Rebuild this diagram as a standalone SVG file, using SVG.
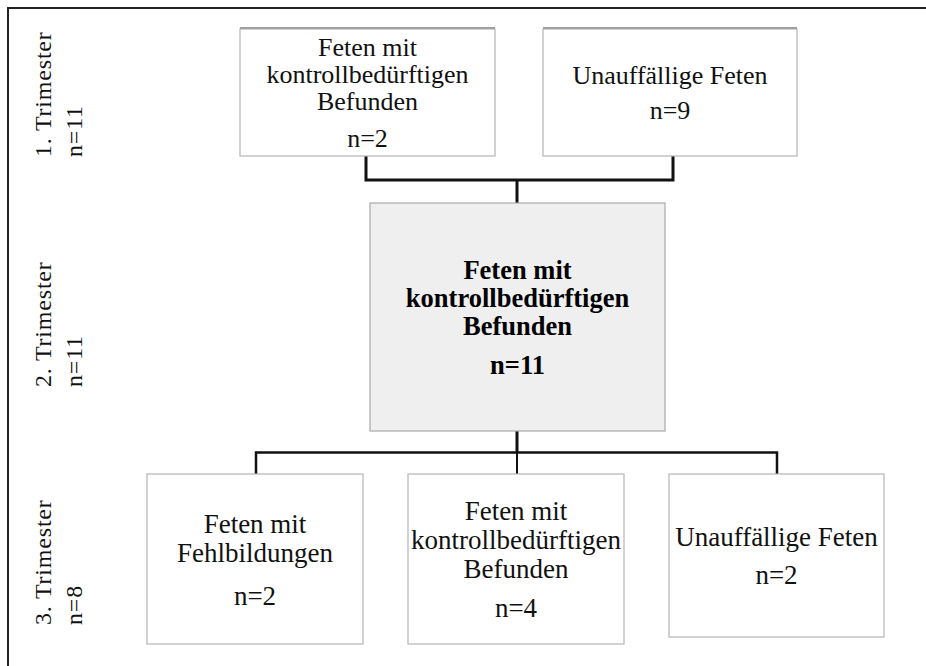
<svg xmlns="http://www.w3.org/2000/svg" width="926" height="666" viewBox="0 0 926 666">
<style>
.box{fill:#fff;stroke:#b4b4b4;stroke-width:1.2}
.hl{fill:#efefef;stroke:#a8a8a8;stroke-width:1.2}
.shadow{stroke:#a0a0a0;stroke-width:2;fill:none}
.t{font-family:"Liberation Serif","Times New Roman",serif;font-size:26px;fill:#111;text-anchor:middle}
.tb{font-family:"Liberation Serif","Times New Roman",serif;font-size:26.5px;font-weight:bold;fill:#000;text-anchor:middle}
.t3{font-family:"Liberation Serif","Times New Roman",serif;font-size:27px;fill:#111;text-anchor:middle}
.side{font-family:"Liberation Serif","Times New Roman",serif;font-size:24px;letter-spacing:0.8px;fill:#111}
.c{stroke:#111;fill:none}
</style>
<rect width="926" height="666" fill="#fff"/>
<path d="M8,666 V8 H926" fill="none" stroke="#222" stroke-width="2"/>
<g id="labels">
<text class="side" transform="translate(51,157) rotate(-90)">1. Trimester</text>
<text class="side" transform="translate(82,157) rotate(-90)">n=11</text>
<text class="side" transform="translate(51,387) rotate(-90)">2. Trimester</text>
<text class="side" transform="translate(82,387) rotate(-90)">n=11</text>
<text class="side" transform="translate(51,625) rotate(-90)">3. Trimester</text>
<text class="side" transform="translate(82,625) rotate(-90)">n=8</text>
</g>
<g id="connectors">
<path class="c" d="M366,156 V180 H673 V156" stroke-width="3"/>
<path class="c" d="M517,180 V203" stroke-width="3"/>
<path class="c" d="M517,431 V452" stroke-width="3"/>
<path class="c" d="M256,474 V452.5 H777 V474" stroke-width="2.5"/>
<path class="c" d="M517,452 V474" stroke-width="2"/>
</g>
<g id="n1">
<rect class="box" x="240" y="29" width="255" height="127"/>
<path class="shadow" d="M240,28 H495"/>
<text class="t" x="367.5" y="56">Feten mit</text>
<text class="t" x="367.5" y="83">kontrollbedürftigen</text>
<text class="t" x="367.5" y="110">Befunden</text>
<text class="t" x="367.5" y="147">n=2</text>
</g>
<g id="n2">
<rect class="box" x="543" y="29" width="254" height="127"/>
<path class="shadow" d="M543,28 H797"/>
<text class="t" x="670" y="84">Unauffällige  Feten</text>
<text class="t" x="670" y="119">n=9</text>
</g>
<g id="n3">
<rect class="hl" x="370" y="203" width="295" height="228"/>
<text class="tb" x="517.5" y="279">Feten mit</text>
<text class="tb" x="517.5" y="307">kontrollbedürftigen</text>
<text class="tb" x="517.5" y="335">Befunden</text>
<text class="tb" x="517.5" y="374">n=11</text>
</g>
<g id="n4">
<rect class="box" x="147" y="474" width="216" height="170"/>
<text class="t3" x="255" y="533">Feten mit</text>
<text class="t3" x="255" y="562">Fehlbildungen</text>
<text class="t3" x="255" y="605">n=2</text>
</g>
<g id="n5">
<rect class="box" x="408" y="474" width="216" height="170"/>
<text class="t3" x="516" y="520">Feten mit</text>
<text class="t3" x="516" y="549">kontrollbedürftigen</text>
<text class="t3" x="516" y="578">Befunden</text>
<text class="t3" x="516" y="617">n=4</text>
</g>
<g id="n6">
<rect class="box" x="669" y="474" width="215" height="163"/>
<text class="t3" x="776.5" y="546">Unauffällige Feten</text>
<text class="t3" x="776.5" y="584">n=2</text>
</g>
</svg>
